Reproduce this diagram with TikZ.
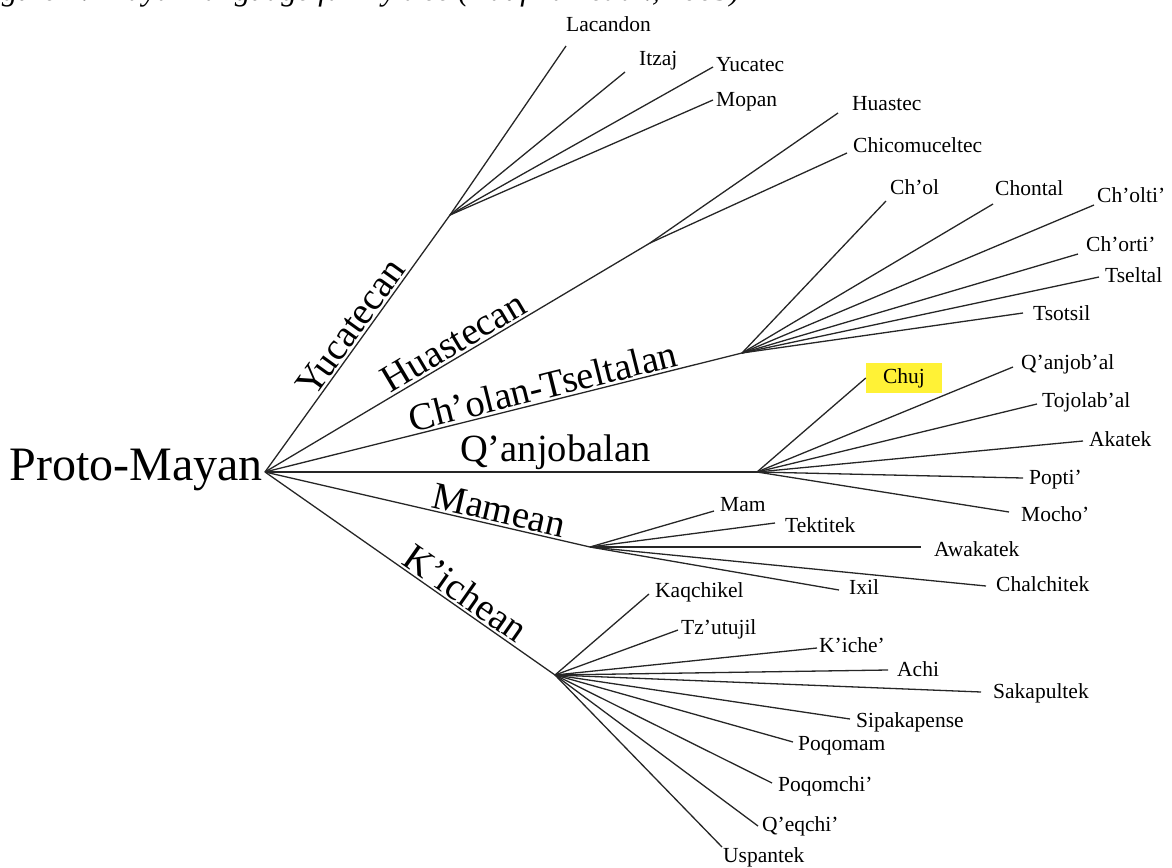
\documentclass[tikz,border=0pt]{standalone}
\usepackage{fontspec}
\setmainfont{Liberation Serif}
\definecolor{chujyellow}{RGB}{255,242,54}
\newcommand\leafline[5]{\coordinate (#2) at (#3); \draw[branch] (#1) -- (#2); \node[leaftext] (#2t) at (#4) {#5};}
\begin{document}
\begin{tikzpicture}[x=1pt,y=-1pt,
  branch/.style={draw=black!85, line width=1.3pt},
  leaftext/.style={font=\fontsize{21.5}{24}\selectfont, inner sep=0pt, anchor=base west},
  grouptext/.style={font=\fontsize{38.5}{42}\selectfont, inner sep=2pt},
]
\useasboundingbox (0,0) rectangle (1172,867);
\begin{scope}
\clip (0,0) rectangle (1172,867);
\node[font=\itshape\fontsize{31}{34}\selectfont, anchor=base west, inner sep=0pt] (cap) at (-26,0.5) {Figure 1: Mayan language family tree (Kaufman et al., 2003)};
\end{scope}

\node[font=\fontsize{48}{52}\selectfont, anchor=base east, inner sep=0pt] (root) at (263,480) {Proto-Mayan};
\coordinate (R) at (265,472);

\coordinate (Y) at (450,215);
\coordinate (H) at (650,243);
\coordinate (C) at (742,353);
\coordinate (Q) at (757,472);
\coordinate (M) at (590,547);
\coordinate (K) at (555,675);

\draw[branch] (R) -- node[grouptext, sloped, above, pos=0.53] {Yucatecan} (Y);
\draw[branch] (R) -- node[grouptext, sloped, above, pos=0.51] {Huastecan} (H);
\draw[branch] (R) -- node[grouptext, sloped, above, pos=0.59] {Ch’olan-Tseltalan} (C);
\draw[branch] (R) -- node[grouptext, sloped, above, pos=0.59] {Q’anjobalan} (Q);
\draw[branch] (R) -- node[grouptext, sloped, above, pos=0.71] {Mamean} (M);
\draw[branch] (R) -- node[grouptext, sloped, above, pos=0.66] {K’ichean} (K);

% Yucatecan
\leafline{Y}{lac}{566,46}{566,32}{Lacandon}
\leafline{Y}{itz}{625,72}{639,66}{Itzaj}
\leafline{Y}{yuc}{713,67}{716,71}{Yucatec}
\leafline{Y}{mop}{713,100}{716,106}{Mopan}
% Huastecan
\leafline{H}{hua}{838,113}{852,110}{Huastec}
\leafline{H}{chi}{847,153}{853,152}{Chicomuceltec}
% Ch'olan-Tseltalan
\leafline{C}{chol}{886,201}{890,194}{Ch’ol}
\leafline{C}{chon}{993,204}{995,195}{Chontal}
\leafline{C}{colt}{1094,205}{1097,202}{Ch’olti’}
\leafline{C}{cort}{1078,254}{1086,251}{Ch’orti’}
\leafline{C}{tsel}{1099,277}{1105,282}{Tseltal}
\leafline{C}{tsot}{1023,313}{1033,320}{Tsotsil}
% Q'anjobalan
\node[fill=chujyellow, minimum width=76, minimum height=30, inner sep=0pt, font=\fontsize{21.5}{24}\selectfont] (chuj) at (904,378) {Chuj};
\draw[branch] (Q) -- (chuj.west);
\leafline{Q}{qan}{1013,367}{1021,369}{Q’anjob’al}
\leafline{Q}{toj}{1037,404}{1042,407}{Tojolab’al}
\leafline{Q}{aka}{1083,441}{1089,446}{Akatek}
\leafline{Q}{pop}{1023,478}{1029,484}{Popti’}
\leafline{Q}{moc}{1009,512}{1021,521}{Mocho’}
% Mamean
\leafline{M}{mam}{714,511}{720,511}{Mam}
\leafline{M}{tek}{775,523}{785,532}{Tektitek}
\leafline{M}{awa}{921,547}{934,556}{Awakatek}
\leafline{M}{cha}{986,586}{996,591}{Chalchitek}
\leafline{M}{ixi}{839,590}{849,594}{Ixil}
% K'ichean
\leafline{K}{kaq}{649,594}{655,597}{Kaqchikel}
\leafline{K}{tzu}{678,630}{681,634}{Tz’utujil}
\leafline{K}{kic}{817,648}{819,652}{K’iche’}
\leafline{K}{ach}{888,670}{897,676}{Achi}
\leafline{K}{sak}{981,692}{993,698}{Sakapultek}
\leafline{K}{sip}{850,719}{856,727}{Sipakapense}
\leafline{K}{pqm}{793,742}{798,750}{Poqomam}
\leafline{K}{pqc}{772,783}{778,791}{Poqomchi’}
\leafline{K}{qeq}{758,826}{762,831}{Q’eqchi’}
\leafline{K}{usp}{722,847}{723,862}{Uspantek}
\end{tikzpicture}
\end{document}
